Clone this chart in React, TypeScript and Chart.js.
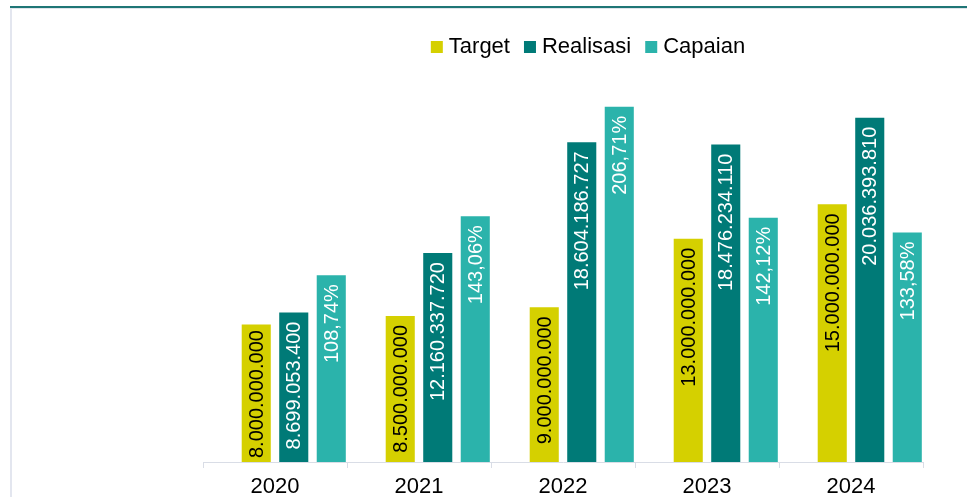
import React, { useEffect, useRef } from 'react';
import { Chart, registerables } from 'chart.js';

Chart.register(...registerables);

const years = ['2020', '2021', '2022', '2023', '2024'];
const spacerValues = [null, null, null, null, null];
const targetValues = [8000000000, 8500000000, 9000000000, 13000000000, 15000000000];
const realisasiValues = [8699053400, 12160337720, 18604186727, 18476234110, 20036393810];
const capaianValues = [108.74, 143.06, 206.71, 142.12, 133.58];
const seriesNames = ['Target', 'Realisasi', 'Capaian'];
const seriesColors = ['#d5d000', '#007a77', '#2bb3ab'];
const labelColors = ['#000000', '#ffffff', '#ffffff'];

const FONT = "'Liberation Sans', Arial, sans-serif";

const formatNumber = (v: number) => String(Math.round(v)).replace(/\B(?=(\d{3})+(?!\d))/g, '.');
const formatPct = (v: number) => v.toFixed(2).replace('.', ',') + '%';

const barLabelPlugin = {
  id: 'barLabels',
  afterDatasetsDraw(chart: any) {
    const ctx = chart.ctx;
    ctx.save();
    ctx.font = `20px ${FONT}`;
    chart.data.datasets.forEach((ds: any, di: number) => {
      const si = ds.seriesIndex;
      if (si === undefined || si < 0) return;
      const meta = chart.getDatasetMeta(di);
      meta.data.forEach((bar: any, i: number) => {
        const v = ds.data[i];
        if (v === null || v === undefined) return;
        const text = si === 2 ? formatPct(v) : formatNumber(v);
        const w = ctx.measureText(text).width;
        let start = bar.y + 9;
        if (start + w > bar.base - 4) start = bar.base - 4 - w;
        ctx.save();
        ctx.translate(bar.x, start);
        ctx.rotate(-Math.PI / 2);
        ctx.textAlign = 'right';
        ctx.textBaseline = 'middle';
        ctx.fillStyle = labelColors[si];
        ctx.fillText(text, 0, 1);
        ctx.restore();
      });
    });
    ctx.restore();
  },
};

const LEGEND_CENTER_X = 588;
const LEGEND_BASELINE_Y = 53;

const legendPlugin = {
  id: 'customLegend',
  afterDraw(chart: any) {
    const ctx = chart.ctx;
    ctx.save();
    ctx.font = `22px ${FONT}`;
    const box = 12;
    const gap = 6;
    const itemGap = 14;
    const widths = seriesNames.map((n) => ctx.measureText(n).width);
    const total = widths.reduce((a, w) => a + box + gap + w, 0) + itemGap * (seriesNames.length - 1);
    let x = LEGEND_CENTER_X - total / 2;
    ctx.textBaseline = 'alphabetic';
    ctx.textAlign = 'left';
    seriesNames.forEach((n, i) => {
      ctx.fillStyle = seriesColors[i];
      ctx.fillRect(x, LEGEND_BASELINE_Y - box, box, box);
      ctx.fillStyle = '#000000';
      ctx.fillText(n, x + box + gap, LEGEND_BASELINE_Y);
      x += box + gap + widths[i] + itemGap;
    });
    ctx.restore();
  },
};

export default function App() {
  const canvasRef = useRef<HTMLCanvasElement | null>(null);

  useEffect(() => {
    if (!canvasRef.current) return;
    Chart.defaults.font.family = FONT;
    const chart = new Chart(canvasRef.current, {
      type: 'bar',
      data: {
        labels: years,
        datasets: [
          { label: '', data: spacerValues, backgroundColor: 'rgba(0,0,0,0)', yAxisID: 'y', seriesIndex: -1 },
          { label: seriesNames[0], data: targetValues, backgroundColor: seriesColors[0], yAxisID: 'y', seriesIndex: 0 },
          { label: seriesNames[1], data: realisasiValues, backgroundColor: seriesColors[1], yAxisID: 'y', seriesIndex: 1 },
          { label: seriesNames[2], data: capaianValues, backgroundColor: seriesColors[2], yAxisID: 'y1', seriesIndex: 2 },
        ] as any,
      },
      options: {
        responsive: false,
        animation: false,
        categoryPercentage: 1.042,
        barPercentage: 0.775,
        layout: { padding: { left: 203, right: 44, top: 84, bottom: 0 } },
        plugins: { legend: { display: false }, tooltip: { enabled: false } },
        scales: {
          x: {
            offset: true,
            grid: { offset: true, drawOnChartArea: false, drawTicks: true, tickLength: 6, color: '#d9dde6', lineWidth: 1 },
            border: { display: true, color: '#d9dde6', width: 1 },
            ticks: { color: '#000000', font: { size: 22, family: FONT }, padding: 6 },
            afterFit: (s: any) => { s.height = 35; },
          },
          y: { display: false, min: 0, max: 22000000000 },
          y1: { display: false, min: 0, max: 220 },
        },
      } as any,
      plugins: [barLabelPlugin, legendPlugin],
    });
    return () => chart.destroy();
  }, []);

  return (
    <div style={{ position: 'fixed', left: 0, top: 0, width: 967, height: 497, background: '#ffffff', overflow: 'hidden' }}>
      <canvas ref={canvasRef} width={967} height={497} style={{ position: 'absolute', left: 0, top: 0, display: 'block' }} />
      <div style={{ position: 'absolute', left: 10, top: 6, width: 957, height: 2, background: '#1f7676' }} />
      <div style={{ position: 'absolute', left: 10, top: 8, width: 957, height: 1, background: '#dfe4ea' }} />
      <div style={{ position: 'absolute', left: 10, top: 8, width: 2, height: 489, background: '#e3e6ef' }} />
    </div>
  );
}
